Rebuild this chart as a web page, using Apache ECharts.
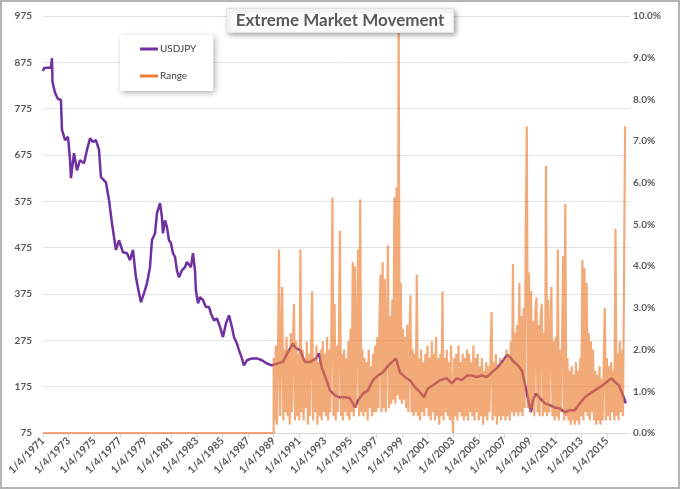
<!DOCTYPE html>
<html>
<head>
<meta charset="utf-8">
<script src="https://cdn.jsdelivr.net/npm/echarts@6/dist/echarts.min.js"></script>
<style>
  html, body { margin: 0; padding: 0; background: #fff; }
  #wrap { position: relative; width: 680px; height: 489px; }
  #chart { width: 680px; height: 489px; }
  #frame {
    position: absolute; left: 0; top: 0; width: 680px; height: 489px;
    box-sizing: border-box; border: 2px solid #b4b4b4; pointer-events: none;
  }
</style>
</head>
<body>
<div id="wrap">
  <div id="chart"></div>
  <div id="frame"></div>
</div>
<script>
// USDJPY (decimal year, level)
const usdYears = [
  1971.00, 1971.08, 1971.62, 1971.70, 1971.74, 1971.94, 1972.17, 1972.40, 1972.48, 1972.72,
  1972.95, 1973.03, 1973.11, 1973.18, 1973.42, 1973.65, 1973.89, 1974.20, 1974.43, 1974.67,
  1974.90, 1975.13, 1975.37, 1975.52, 1975.91, 1976.15, 1976.38, 1976.69, 1976.93, 1977.24,
  1977.55, 1977.79, 1978.02, 1978.25, 1978.49, 1978.64, 1978.88, 1979.11, 1979.35, 1979.50,
  1979.74, 1979.89, 1980.13, 1980.28, 1980.36, 1980.52, 1980.67, 1980.83, 1980.98, 1981.14,
  1981.30, 1981.45, 1981.61, 1981.84, 1982.08, 1982.23, 1982.54, 1982.70, 1982.86, 1982.93,
  1983.09, 1983.25, 1983.48, 1983.71, 1983.95, 1984.10, 1984.34, 1984.57, 1984.81, 1985.04,
  1985.27, 1985.51, 1985.74, 1985.90, 1986.13, 1986.29, 1986.52, 1986.68, 1986.91, 1987.30,
  1987.69, 1988.08, 1988.47, 1988.86, 1989.25, 1989.71, 1990.10, 1990.50, 1990.73, 1991.05,
  1991.44, 1991.83, 1992.29, 1992.53, 1992.76, 1993.07, 1993.39, 1993.78, 1994.17, 1994.56,
  1994.95, 1995.34, 1995.57, 1995.96, 1996.35, 1996.74, 1997.13, 1997.52, 1997.83, 1998.22,
  1998.54, 1998.85, 1999.24, 1999.63, 2000.02, 2000.41, 2000.72, 2001.03, 2001.42, 2001.97,
  2002.51, 2002.90, 2003.29, 2003.68, 2004.07, 2004.46, 2004.85, 2005.24, 2005.63, 2006.02,
  2006.41, 2006.80, 2007.19, 2007.43, 2007.74, 2008.05, 2008.36, 2008.68, 2008.91, 2009.07,
  2009.22, 2009.46, 2009.77, 2010.16, 2010.55, 2010.94, 2011.33, 2011.72, 2012.11, 2012.50,
  2012.89, 2013.28, 2013.67, 2014.06, 2014.45, 2014.84, 2015.15, 2015.38, 2015.62, 2015.93,
  2016.16, 2016.40, 2016.47
];
const usdjpy = [
  856, 863, 864, 884, 833, 809, 796, 794, 729, 707,
  714, 690, 664, 625, 679, 642, 664, 657, 686, 711,
  703, 707, 686, 627, 616, 578, 528, 470, 491, 465,
  463, 448, 470, 411, 377, 357, 377, 398, 433, 491,
  506, 549, 571, 541, 506, 534, 520, 491, 485, 463,
  455, 426, 411, 426, 433, 444, 433, 463, 426, 383,
  355, 368, 362, 347, 347, 333, 318, 322, 304, 282,
  311, 329, 304, 282, 268, 254, 236, 221, 232, 236,
  236, 232, 225, 221, 225, 228, 249, 268, 258, 254,
  228, 228, 236, 247, 215, 193, 167, 156, 152, 152,
  150, 130, 145, 160, 167, 189, 199, 206, 217, 228,
  236, 206, 196, 189, 174, 163, 152, 171, 178, 189,
  193, 182, 193, 189, 199, 199, 196, 199, 196, 206,
  215, 228, 243, 239, 228, 221, 210, 171, 139, 120,
  145, 160, 150, 139, 135, 130, 128, 120, 124, 124,
  139, 152, 160, 167, 174, 182, 189, 193, 185, 178,
  163, 145, 139
];

// Range (%), flat at zero until 1989, then one reading per month from Jan 1989
const rangeZeroYears = [1971, 1989];
const rangeStartYear = 1989;
const rangePct = [
  1.8, 0.3, 2.1, 0.2, 1.9, 4.4, 0.4, 2.2, 3.5, 0.3, 2.0, 0.5,
  2.3, 0.4, 2.0, 0.2, 2.4, 0.5, 2.1, 3.1, 0.3, 2.2, 0.4, 1.9,
  0.3, 4.4, 0.5, 2.0, 0.3, 1.8, 0.6, 2.2, 0.2, 1.9, 0.4, 2.0,
  3.4, 0.3, 1.8, 0.5, 2.1, 0.2, 1.7, 0.4, 2.0, 0.3, 2.2, 0.5,
  1.9, 0.4, 2.3, 0.3, 2.0, 0.5, 2.4, 5.65, 0.4, 3.1, 0.3, 2.1,
  0.5, 2.2, 4.85, 0.4, 1.9, 0.3, 2.0, 0.5, 1.8, 0.4, 2.2, 0.3,
  2.5, 0.5, 4.1, 0.4, 4.0, 0.6, 2.3, 4.4, 0.4, 5.6, 0.5, 2.0,
  0.4, 1.8, 0.5, 1.7, 0.3, 2.0, 0.6, 1.6, 0.4, 1.9, 0.5, 2.1,
  0.5, 2.3, 0.6, 2.6, 3.8, 0.5, 4.1, 0.6, 3.7, 0.5, 2.4, 4.5,
  0.6, 2.8, 0.7, 3.2, 0.8, 5.65, 0.7, 5.9, 0.9, 9.8, 0.8, 3.6,
  0.7, 2.5, 0.8, 2.3, 0.6, 2.6, 0.5, 2.2, 3.3, 0.5, 2.0, 0.4,
  1.9, 0.5, 3.8, 0.4, 1.8, 0.3, 2.0, 0.5, 1.7, 0.4, 1.9, 0.6,
  2.1, 0.4, 1.8, 0.3, 2.2, 0.5, 1.9, 0.3, 2.3, 0.4, 1.8, 0.2,
  1.9, 0.4, 3.4, 0.3, 1.8, 0.5, 2.0, 0.4, 1.7, 0.3, 2.1, 0.5,
  0.0, 1.8, 0.4, 1.9, 0.3, 2.1, 0.5, 1.7, 0.4, 1.9, 0.3, 1.8,
  0.4, 2.0, 0.3, 1.9, 0.5, 1.7, 0.4, 2.1, 0.3, 1.8, 0.5, 1.9,
  0.3, 1.6, 0.4, 1.8, 0.2, 1.5, 0.4, 1.7, 0.3, 1.6, 0.5, 1.8,
  2.9, 0.3, 1.7, 0.4, 1.9, 0.2, 1.6, 0.4, 1.8, 0.3, 1.7, 0.4,
  1.8, 0.3, 2.0, 0.4, 1.9, 0.3, 2.2, 0.5, 4.05, 0.4, 2.4, 0.5,
  2.6, 0.4, 3.6, 0.5, 2.8, 0.4, 3.0, 0.6, 4.9, 7.35, 0.6, 3.85,
  0.5, 3.4, 0.6, 2.7, 0.4, 2.9, 3.25, 0.5, 2.6, 0.4, 2.8, 3.1,
  0.4, 2.4, 0.5, 6.4, 0.4, 3.2, 0.5, 2.3, 3.5, 0.4, 2.2, 0.3,
  2.3, 0.4, 4.4, 0.3, 2.0, 0.5, 2.2, 4.25, 0.3, 5.5, 0.4, 1.8,
  0.3, 1.5, 0.2, 1.6, 0.3, 1.4, 0.2, 1.7, 0.3, 1.5, 0.2, 1.8,
  0.4, 4.15, 0.3, 3.95, 0.5, 3.6, 0.4, 2.4, 0.3, 2.2, 0.5, 2.0,
  0.3, 1.5, 0.2, 1.4, 0.3, 1.6, 0.2, 1.3, 0.3, 1.7, 3.0, 0.3,
  1.8, 0.4, 1.6, 0.3, 1.7, 0.5, 1.5, 0.3, 4.9, 0.4, 1.9, 0.3,
  2.2, 0.5, 2.0, 0.4, 3.6, 7.35
];

// axis tick labels
const tickYears = [1971, 1973, 1975, 1977, 1979, 1981, 1983, 1985, 1987, 1989, 1991,
  1993, 1995, 1997, 1999, 2001, 2003, 2005, 2007, 2009, 2011, 2013, 2015];

const purple = '#7030A0';
const orange = '#ED7D31';
const labelColor = '#595959';
const font = 'Lato, "Open Sans", sans-serif';

let usdData = usdYears.map((y, i) => [y, usdjpy[i]]);
let rangeData = rangeZeroYears.map(y => [y, 0])
  .concat(rangePct.map((v, i) => [rangeStartYear + i / 12, v]));

let chart = echarts.init(document.getElementById('chart'), null, { renderer: 'canvas' });

let option = {
  animation: false,
  backgroundColor: '#fff',
  textStyle: { fontFamily: font },
  title: {
    text: 'Extreme Market Movement',
    left: 'center',
    top: 8,
    padding: [4, 9, 4, 9],
    backgroundColor: '#fff',
    borderColor: '#e3e3e3',
    borderWidth: 1,
    shadowBlur: 5,
    shadowColor: 'rgba(0,0,0,0.35)',
    shadowOffsetX: 2,
    shadowOffsetY: 2,
    textStyle: {
      fontFamily: font,
      fontSize: 17,
      fontWeight: 'bold',
      color: labelColor
    }
  },
  legend: {
    orient: 'vertical',
    left: 120,
    top: 35,
    padding: [7, 17, 8, 20],
    itemGap: 13,
    itemWidth: 18,
    itemHeight: 3,
    icon: 'rect',
    backgroundColor: '#fff',
    shadowBlur: 6,
    shadowColor: 'rgba(0,0,0,0.3)',
    shadowOffsetX: 2,
    shadowOffsetY: 2,
    textStyle: { fontFamily: font, fontSize: 10, lineHeight: 14, color: '#404040', padding: [0, 0, 0, -3] },
    data: ['USDJPY', 'Range']
  },
  grid: {
    left: 43,
    right: 50,
    top: 16,
    bottom: 56
  },
  xAxis: {
    type: 'value',
    min: 1971,
    max: 2016.8,
    axisLine: { show: true, lineStyle: { color: '#d9d9d9' } },
    axisTick: {
      show: true,
      customValues: tickYears,
      length: 5,
      lineStyle: { color: '#d9d9d9' }
    },
    axisLabel: {
      customValues: tickYears,
      rotate: 45,
      margin: 6,
      fontSize: 10.5,
      fontWeight: 'bold',
      color: labelColor,
      formatter: v => '1/4/' + v
    },
    splitLine: { show: false }
  },
  yAxis: [
    {
      type: 'value',
      min: 75,
      max: 975,
      interval: 100,
      axisLine: { show: false },
      axisTick: { show: false },
      axisLabel: { margin: 11, fontSize: 10, fontWeight: 'bold', color: labelColor },
      splitLine: { lineStyle: { color: '#e3e3e3', width: 1 } }
    },
    {
      type: 'value',
      min: 0,
      max: 10,
      interval: 1,
      axisLine: { show: false },
      axisTick: { show: false },
      axisLabel: {
        margin: 3,
        fontSize: 10,
        fontWeight: 'bold',
        color: labelColor,
        formatter: v => v.toFixed(1) + '%'
      },
      splitLine: { show: false }
    }
  ],
  series: [
    {
      name: 'USDJPY',
      type: 'line',
      yAxisIndex: 0,
      symbol: 'none',
      data: usdData,
      itemStyle: { color: purple },
      lineStyle: { color: purple, width: 2.5 },
      z: 2
    },
    {
      name: 'Range',
      type: 'line',
      yAxisIndex: 1,
      symbol: 'none',
      data: rangeData,
      itemStyle: { color: orange },
      lineStyle: { color: orange, width: 2.2, opacity: 0.65, join: 'bevel' },
      z: 3
    }
  ]
};
chart.setOption(option);
</script>
</body>
</html>
